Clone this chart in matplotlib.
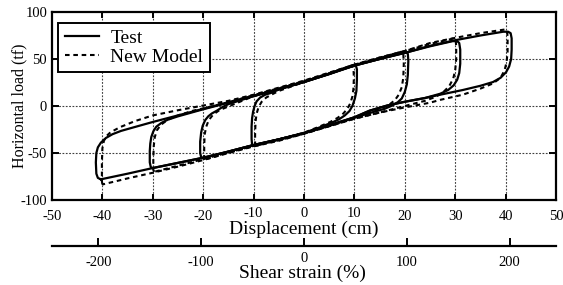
"""
Hysteresis loops of the isolator: test vs new model
Displacement on the main axis, shear strain on a second scale below
"""
import numpy as np
import matplotlib.pyplot as plt
import matplotlib.transforms as mtransforms

plt.rcParams['font.family'] = ['Liberation Serif', 'DejaVu Serif']

# ---- data: (displacement cm, load tf) ----
test_40 = [(-40.3, -78), (-40.9, -76.5), (-41.2, -72), (-41.3, -60), (-41.2, -50), (-40.9, -44),
           (-40.3, -39), (-39.3, -34), (-38.0, -30), (-36.3, -26.5), (-34, -23), (-30, -17),
           (-25, -10), (-20, -3), (-15, 4), (-10, 11), (-5, 18), (0, 26), (5, 34.5), (10, 43),
           (15, 50), (20, 56.5), (25, 64), (30, 70), (35, 75), (39.5, 79), (40.5, 79), (41.0, 77.5),
           (41.2, 72), (41.2, 60), (41.1, 50), (40.7, 42), (40.1, 36), (39, 30), (37.5, 25.5),
           (35, 21.5), (31.5, 17), (27, 12), (24, 8.5), (20, 4.5), (16.5, 0.5), (13, -5), (10, -12),
           (5, -20.5), (0, -29), (-5, -35.5), (-10, -41.5), (-15, -48.5), (-20, -55), (-25, -60.5),
           (-30, -66), (-35, -72), (-40.3, -78)]

test_30 = [(-30, -66), (-30.4, -65), (-30.6, -60), (-30.6, -48), (-30.5, -40), (-30.3, -33),
           (-29.9, -27), (-29.3, -22), (-28.3, -18), (-27, -14.5), (-25, -11), (-20, -3.5),
           (-15, 3.5), (-10, 10.5), (-5, 18), (0, 25.5), (5, 34), (10, 43), (15, 50), (20, 56.5),
           (25, 63.5), (29.5, 69), (30.4, 69), (30.8, 67), (31.0, 60), (31.0, 45), (30.8, 35),
           (30.4, 28), (29.7, 22), (28.6, 17), (27, 13), (25, 10), (24, 8.5), (20, 4.5),
           (16.5, 0.5), (13, -5), (10, -12), (5, -20.5), (0, -29), (-5, -35.5), (-10, -41.5),
           (-15, -48.5), (-20, -55), (-25, -60.5), (-30, -66)]

test_20 = [(-20, -55.5), (-20.4, -54.5), (-20.6, -50), (-20.6, -38), (-20.4, -28), (-20.1, -21),
           (-19.6, -15), (-19.0, -11), (-18.3, -8), (-17.3, -5), (-16.3, -1.5), (-15, 2),
           (-10, 10.5), (-5, 18), (0, 25.5), (5, 34), (10, 43), (15, 50), (19.6, 56.5), (20.3, 57),
           (20.6, 55.5), (20.7, 48), (20.6, 33), (20.4, 23), (20.0, 15), (19.4, 8), (18.6, 4),
           (17.5, 0.5), (16, -3), (13, -7.5), (10, -12.5), (5, -21), (0, -29), (-5, -35.5),
           (-10, -41.5), (-15, -48.5), (-20, -55.5)]

test_10 = [(-10, -42), (-10.3, -41), (-10.4, -35), (-10.4, -22), (-10.3, -13), (-10.1, -6),
           (-9.8, 0), (-9.4, 5), (-8.7, 9), (-7.7, 12), (-6.5, 14), (-5, 17.5), (0, 25.5),
           (5, 34), (9.8, 43.5), (10.3, 43), (10.5, 39), (10.5, 28), (10.4, 16), (10.1, 8),
           (9.6, 0), (9.0, -5.5), (8.1, -10), (7.0, -14), (5.8, -17), (3, -23), (0, -28.5),
           (-5, -35.5), (-10, -42)]

model_40 = [(-40.0, -83.5), (-40.1, -80), (-40.1, -60), (-40.0, -45), (-39.7, -37), (-39.2, -32),
            (-38.4, -28), (-36.5, -22.5), (-33.5, -16), (-30, -10), (-25, -4.5), (-20, 0.5),
            (-15, 5.5), (-10, 12), (-5, 19.5), (0, 27), (5, 35.5), (10, 44), (15, 51.5),
            (20, 58.5), (25, 67), (30, 72.5), (35, 77.5), (40, 81.5), (40.3, 80), (40.4, 72),
            (40.4, 58), (40.2, 47), (39.8, 38), (39.0, 30), (37.5, 24), (35, 18.5), (31.5, 12),
            (27, 6.5), (25, 3.5), (20, -1.5), (15, -7), (10, -13.5), (5, -21.5), (0, -29.5),
            (-5, -37), (-10, -43), (-15, -50), (-20, -57.5), (-25, -64.5), (-30, -71), (-35, -77),
            (-40.0, -83.5)]

model_30 = [(-29.7, -70), (-29.9, -68), (-29.9, -55), (-29.8, -42), (-29.6, -33), (-29.2, -26),
            (-28.4, -20), (-27, -14.5), (-25, -10), (-22, -5), (-20, -2.5), (-15, 4), (-10, 11.5),
            (-5, 19), (0, 26.5), (5, 35), (10, 44), (15, 51.5), (20, 58.5), (25, 66), (29.8, 72),
            (30.1, 70.5), (30.2, 63), (30.2, 50), (30.0, 38), (29.6, 29), (28.8, 21), (27.5, 14),
            (26, 9.5), (24, 5.5), (20, 0), (15, -7), (10, -13.5), (5, -21.5), (0, -29.5),
            (-5, -36.5), (-10, -42.5), (-15, -49.5), (-20, -56.5), (-25, -63.5), (-29.7, -70)]

model_20 = [(-19.7, -57), (-19.8, -55), (-19.8, -42), (-19.7, -30), (-19.4, -22), (-18.9, -15),
            (-18, -9), (-16.8, -4.5), (-15, -0.5), (-10, 10.5), (-5, 18.5), (0, 26), (5, 34.5),
            (10, 43.5), (15, 51), (19.5, 58), (19.7, 56), (19.8, 45), (19.7, 30), (19.4, 20),
            (18.8, 12), (18, 6), (16.8, 1), (15, -3), (13, -7), (10, -12.5), (5, -21), (0, -29),
            (-5, -36), (-10, -42.5), (-15, -49.5), (-19.7, -57)]

model_10 = [(-9.6, -42.5), (-9.7, -40), (-9.7, -28), (-9.6, -16), (-9.4, -8), (-9.0, -1),
            (-8.4, 4.5), (-7.5, 9), (-6.3, 12.5), (-5, 16), (0, 25.5), (5, 34.5), (9.6, 43.5),
            (9.8, 41), (9.9, 30), (9.8, 18), (9.6, 10), (9.2, 3), (8.6, -3), (7.8, -8),
            (6.7, -12.5), (5.2, -17), (3, -22), (0, -28.5), (-5, -35.5), (-9.6, -42.5)]

disp_ticks = [-50, -40, -30, -20, -10, 0, 10, 20, 30, 40, 50]
load_ticks = [-100, -50, 0, 50, 100]
strain_ticks = [-200, -100, 0, 100, 200]

test_loops = [test_10, test_20, test_30, test_40]
model_loops = [model_10, model_20, model_30, model_40]

# ---- figure ----
W, H = 563, 285
fig = plt.figure(figsize=(W / 100, H / 100), dpi=100)
fig.patch.set_facecolor('white')

ax = fig.add_axes([52 / W, (H - 200) / H, 504 / W, 188 / H])

for i, loop in enumerate(test_loops):
    pts = np.array(loop)
    ax.plot(pts[:, 0], pts[:, 1], color='black', lw=1.6, solid_joinstyle='round',
            label='Test' if i == 0 else None, zorder=3)
for i, loop in enumerate(model_loops):
    pts = np.array(loop)
    ax.plot(pts[:, 0], pts[:, 1], color='black', lw=1.5, dashes=(2.2, 1.8),
            label='New Model' if i == 0 else None, zorder=4)

ax.set_xlim(-50, 50)
ax.set_ylim(-100, 100)
ax.set_xticks(disp_ticks)
ax.set_yticks(load_ticks)
ax.set_xticklabels([str(t) for t in disp_ticks], fontsize=10.5)
ax.set_yticklabels([str(t) for t in load_ticks], fontsize=10.5)

# dotted grid at inner ticks only
for x in disp_ticks[1:-1]:
    ax.axvline(x, color='0.25', lw=0.8, dashes=(1.6, 1.4), zorder=1)
for y in load_ticks[1:-1]:
    ax.axhline(y, color='0.25', lw=0.8, dashes=(1.6, 1.4), zorder=1)

ax.tick_params(axis='x', direction='in', top=True, bottom=True, length=4, width=1.4, pad=7)
ax.tick_params(axis='y', direction='in', left=True, right=True, length=5, width=1.4, pad=3.5)
for s in ax.spines.values():
    s.set_linewidth(1.6)

# the -10, 0, 10 labels sit a little higher in the original
for lab, t in zip(ax.get_xticklabels(), disp_ticks):
    if t in (-10, 0, 10):
        lab.set_transform(lab.get_transform() +
                          mtransforms.ScaledTranslation(0, 3 / 100, fig.dpi_scale_trans))

ax.set_xlabel('Displacement (cm)', fontsize=14)
ax.xaxis.set_label_coords(0.5, (200 - 234) / 188)
ax.xaxis.label.set_va('baseline')
ax.set_ylabel('Horizontal load (tf)', fontsize=11.5)
ax.yaxis.set_label_coords((19 - 52) / 504, 0.5)
ax.yaxis.label.set_va('center')

leg = ax.legend(loc='upper left', bbox_to_anchor=(6 / 504, (200 - 23) / 188), borderaxespad=0,
                fontsize=14, handlelength=1.75, handletextpad=0.6, borderpad=0.34,
                labelspacing=0.05, fancybox=False, framealpha=1, edgecolor='black')
leg.get_frame().set_linewidth(1.4)

# ---- second scale: shear strain ----
ax2 = fig.add_axes([52 / W, (H - 246) / H, 504 / W, 0.0001])
ax2.set_xlim(-245, 245)
ax2.set_yticks([])
for side in ('top', 'left', 'right'):
    ax2.spines[side].set_visible(False)
ax2.spines['bottom'].set_linewidth(1.6)
ax2.patch.set_visible(False)
ax2.set_xticks(strain_ticks)
ax2.set_xticklabels([str(t) for t in strain_ticks], fontsize=10.5)
ax2.tick_params(axis='x', direction='in', length=6, width=1.4, pad=7.5)
for lab, t in zip(ax2.get_xticklabels(), strain_ticks):
    if t == 0:
        lab.set_transform(lab.get_transform() +
                          mtransforms.ScaledTranslation(0, 4 / 100, fig.dpi_scale_trans))
ax2.set_xlabel('Shear strain (%)', fontsize=14)
ax2.xaxis.set_label_coords(0.5, 0)
ax2.xaxis.label.set_va('baseline')
ax2.xaxis.label.set_transform(ax2.xaxis.label.get_transform() +
                              mtransforms.ScaledTranslation(-2 / 100, -32 / 100, fig.dpi_scale_trans))

plt.savefig('out.png', dpi=100, facecolor='white')
plt.close()
print("Saved: out.png")
